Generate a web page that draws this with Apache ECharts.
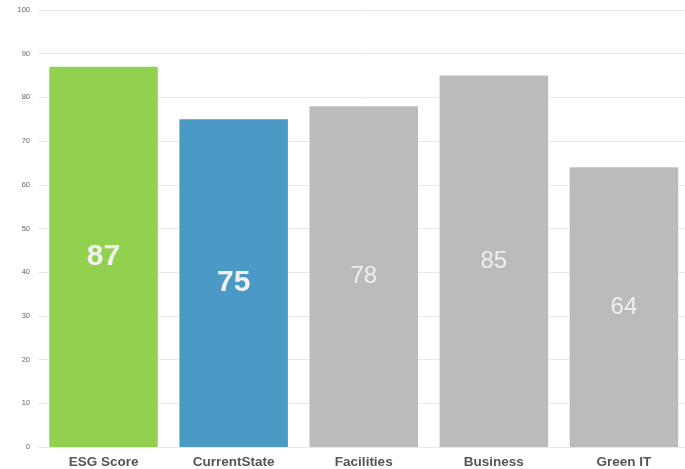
<!DOCTYPE html>
<html>
<head>
<meta charset="utf-8">
<script src="https://cdn.jsdelivr.net/npm/echarts@6/dist/echarts.min.js"></script>
<style>html,body{margin:0;padding:0;background:#fff;overflow:hidden;}#c{width:690px;height:469px;}</style>
</head>
<body>
<div id="c"></div>
<script>
const categories = ['ESG Score', 'CurrentState', 'Facilities', 'Business', 'Green IT'];
const values = [87, 75, 78, 85, 64];
const barColors = ['#92d04f', '#4a9ac5', '#bbbbbb', '#bbbbbb', '#bbbbbb'];
const boldLabel = [true, true, false, false, false];

const chart = echarts.init(document.getElementById('c'));
chart.setOption({
  animation: false,
  grid: { left: 38.5, right: 1, top: 10, bottom: 22 },
  xAxis: {
    type: 'category',
    data: categories,
    axisLine: { show: true, lineStyle: { color: '#e8e8e8' } },
    axisTick: { show: false },
    axisLabel: { color: '#555', fontWeight: 'bold', fontSize: 13.5, fontFamily: 'Liberation Sans, Arial, sans-serif', margin: 8 }
  },
  yAxis: {
    type: 'value',
    min: 0, max: 100, interval: 10,
    axisLine: { show: false },
    axisTick: { show: false },
    splitLine: { lineStyle: { color: '#e8e8e8', width: 1 } },
    axisLabel: { color: '#666', fontSize: 7.5, fontFamily: 'Liberation Sans, Arial, sans-serif', margin: 8.5 }
  },
  series: [{
    type: 'bar',
    barWidth: 108.5,
    data: values.map((v, i) => ({
      value: v,
      itemStyle: { color: barColors[i] },
      label: boldLabel[i]
        ? { fontWeight: 'bold', fontSize: 30, color: '#f2f2f2' }
        : { fontWeight: 'normal', fontSize: 24, color: '#efefef' }
    })),
    label: { show: true, position: 'inside', fontFamily: 'Liberation Sans, Arial, sans-serif' }
  }]
});
</script>
</body>
</html>
